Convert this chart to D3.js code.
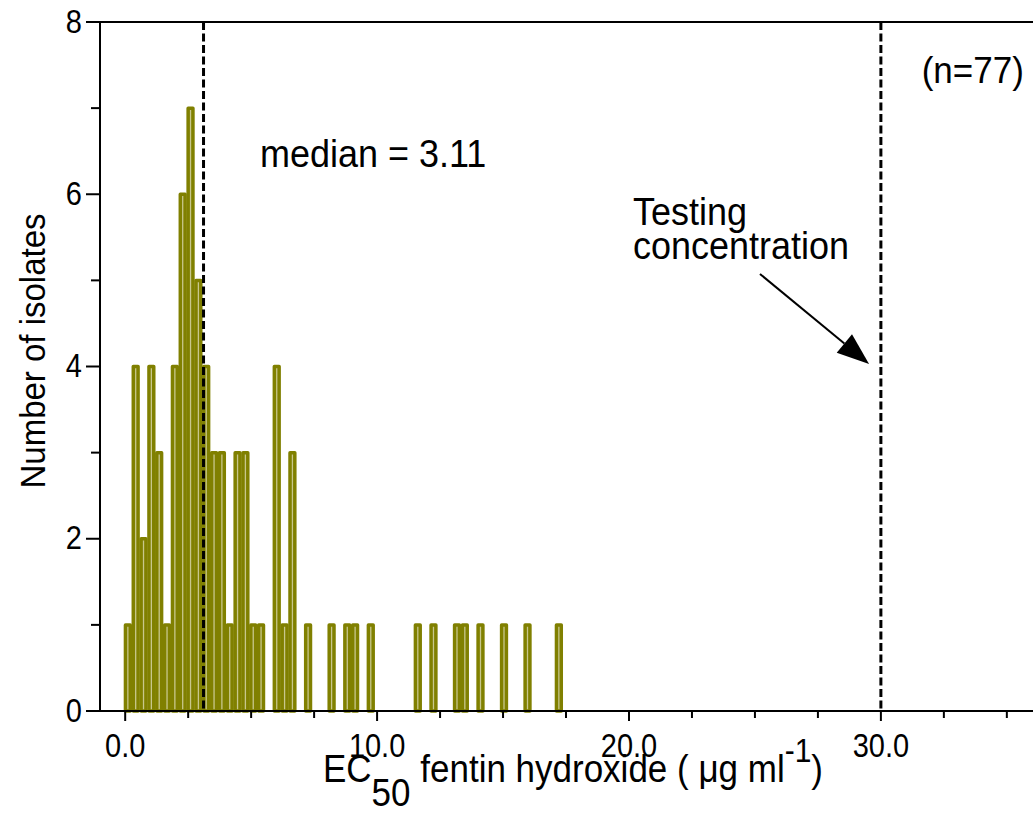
<!DOCTYPE html>
<html>
<head>
<meta charset="utf-8">
<script src="https://cdn.jsdelivr.net/npm/d3@7"></script>
<style>
  html, body { margin: 0; padding: 0; background: #fff; overflow: hidden; }
  svg { display: block; font-family: "Liberation Sans", Arial, Helvetica, sans-serif; }
</style>
</head>
<body>
<svg id="chart" width="1033" height="827"></svg>
<script>
// ---- data ----
const binStart = -0.05;          // left edge of first bin (µg/ml)
const binWidth = 0.3111;         // bin width (µg/ml)
const binIndex = [0,1,2,3,4,5,6,7,8,9,10,11,12,13,14,15,16,17,19,20,21,23,26,28,29,31,37,39,42,43,45,48,51,55];
const binCount = [1,4,2,4,3,1,4,6,7,5,4,3,3,1,3,3,1,1,4,1,3,1,1,1,1,1,1,1,1,1,1,1,1,1];
const medianValue = 3.11;
const testingConc = 30.0;
const nIsolates = 77;
const xMajorTicks = [0, 10, 20, 30];
const xMinorTicks = [2.5, 5, 7.5, 12.5, 15, 17.5, 22.5, 25, 27.5, 32.5, 35, 37.5];
const yMajorTicks = [0, 2, 4, 6, 8];
const yMinorTicks = [1, 3, 5, 7];

// ---- scales ----
const svg = d3.select("#chart");
const x = d3.scaleLinear().domain([-1, 40]).range([100, 100 + 41 * 25.19]);
const y = d3.scaleLinear().domain([0, 8]).range([711, 22]);
const X0 = x(-1), Y0 = y(0), YT = y(8);
const STRETCH = 1.14;  // reference glyphs are taller than they are wide

const bars = binIndex.map((b, i) => ({ x0: binStart + b * binWidth, x1: binStart + (b + 1) * binWidth, n: binCount[i] }));

// ---- bars ----
svg.append("g").selectAll("rect").data(bars).join("rect")
  .attr("x", d => (x(d.x0) + x(d.x1)) / 2 - 2.4)
  .attr("width", 4.8)
  .attr("y", d => y(d.n))
  .attr("height", d => Y0 - y(d.n))
  .attr("fill", "#c8c78c")
  .attr("stroke", "#808000")
  .attr("stroke-width", 3.5)
  .attr("stroke-linejoin", "round");

// ---- reference lines ----
[medianValue, testingConc].forEach(v => {
  svg.append("line")
    .attr("x1", x(v)).attr("x2", x(v))
    .attr("y1", YT).attr("y2", Y0)
    .attr("stroke", "#000").attr("stroke-width", 3)
    .attr("stroke-dasharray", "8,3.5");
});

// ---- axes ----
const axG = svg.append("g").attr("stroke", "#000").attr("stroke-width", 2);
axG.append("line").attr("x1", X0).attr("x2", 1040).attr("y1", Y0).attr("y2", Y0);
axG.append("line").attr("x1", X0).attr("x2", 1040).attr("y1", YT).attr("y2", YT);
axG.append("line").attr("x1", X0).attr("x2", X0).attr("y1", YT).attr("y2", Y0);

axG.selectAll(".xmaj").data(xMajorTicks).join("line")
  .attr("x1", d => x(d)).attr("x2", d => x(d)).attr("y1", Y0).attr("y2", Y0 + 10);
axG.selectAll(".xmin").data(xMinorTicks).join("line")
  .attr("x1", d => x(d)).attr("x2", d => x(d)).attr("y1", Y0).attr("y2", Y0 + 7);
axG.selectAll(".ymaj").data(yMajorTicks).join("line")
  .attr("x1", X0 - 14).attr("x2", X0).attr("y1", d => y(d)).attr("y2", d => y(d));
axG.selectAll(".ymin").data(yMinorTicks).join("line")
  .attr("x1", X0 - 9).attr("x2", X0).attr("y1", d => y(d)).attr("y2", d => y(d));

// helper: place a text with vertical stretch
const tr = (px, py, k = STRETCH) => `translate(${px},${py}) scale(1,${k})`;

// tick labels
svg.append("g").selectAll("text").data(xMajorTicks).join("text")
  .attr("transform", d => tr(x(d), Y0 + 46))
  .attr("text-anchor", "middle").attr("font-size", 29)
  .text(d => d3.format(".1f")(d));
svg.append("g").selectAll("text").data(yMajorTicks).join("text")
  .attr("transform", d => tr(X0 - 18, y(d) + 10.5))
  .attr("text-anchor", "end").attr("font-size", 29)
  .text(d => d);

// axis titles
svg.append("text")
  .attr("transform", `translate(45, 351) rotate(-90) scale(1,1.08)`)
  .attr("text-anchor", "middle").attr("font-size", 33)
  .text("Number of isolates");

const xl = svg.append("text").attr("transform", tr(323, 782, 1.1)).attr("font-size", 35);
xl.append("tspan").text("EC");
xl.append("tspan").attr("dy", 22).text("50");
xl.append("tspan").attr("dy", -22).text(" fentin hydroxide ( ");
xl.append("tspan").text("\u03bcg ml");
xl.append("tspan").attr("dy", -18).attr("font-size", 30).text("-1");
xl.append("tspan").attr("dy", 18).text(")");

// annotations
svg.append("text").attr("transform", tr(x(5.35), y(6.32), 1.08)).attr("font-size", 36).text("median = " + medianValue.toFixed(2));
svg.append("text").attr("transform", tr(x(20.16), y(5.645), 1.08)).attr("font-size", 36).text("Testing");
svg.append("text").attr("transform", tr(x(20.16), y(5.25), 1.08)).attr("font-size", 36).text("concentration");
svg.append("text").attr("transform", tr(x(31.62), y(7.29), 1.08)).attr("font-size", 35).text(`(n=${nIsolates})`);

// arrow
const a0 = [x(25.2), y(5.075)], a1 = [x(29.53), y(4.03)];
const ang = Math.atan2(a1[1] - a0[1], a1[0] - a0[0]);
const hl = 32, hw = 12;
const bx = a1[0] - hl * Math.cos(ang), by = a1[1] - hl * Math.sin(ang);
svg.append("line").attr("x1", a0[0]).attr("y1", a0[1]).attr("x2", bx).attr("y2", by)
  .attr("stroke", "#000").attr("stroke-width", 2);
svg.append("path")
  .attr("d", d3.line()([
    a1,
    [bx + hw * Math.sin(ang), by - hw * Math.cos(ang)],
    [bx - hw * Math.sin(ang), by + hw * Math.cos(ang)]
  ]) + "Z")
  .attr("fill", "#000");
</script>
</body>
</html>
